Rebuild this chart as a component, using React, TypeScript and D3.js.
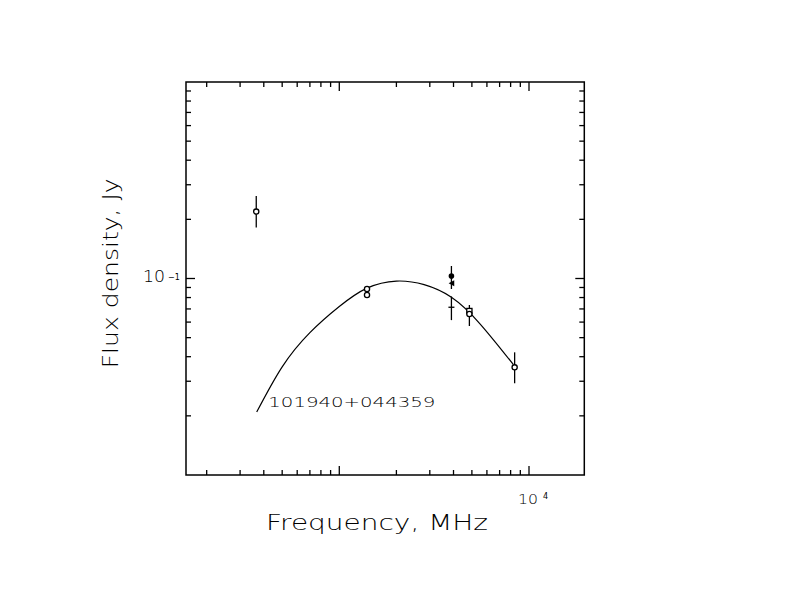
import React from 'react';
import * as d3 from 'd3';

// observations: frequency (MHz), flux (Jy), error bar (Jy), marker kind
const obsFreq = [365, 1400, 1400, 3900, 3900, 3900, 4850, 4850, 8400];
const obsFlux = [0.219, 0.0884, 0.0824, 0.103, 0.0946, 0.0714, 0.0683, 0.066, 0.0353];
const obsLow = [0.182, null, null, 0.0884, null, 0.0614, 0.0573, null, 0.0293];
const obsHigh = [0.263, null, null, 0.1158, null, 0.081, 0.0733, null, 0.0421];
const obsKind = ['circle', 'circle', 'circle', 'dot', 'tri', 'plus', 'square', 'circle', 'circle'];

// fitted spectrum
const fitFreq = [367, 500, 700, 1000, 1400, 2000, 2800, 3900, 5500, 8265];
const fitFlux = [0.0209, 0.0355, 0.053, 0.072, 0.0893, 0.097, 0.093, 0.0802, 0.059, 0.0365];

const xMinor = [200, 300, 400, 500, 600, 700, 800, 900, 2000, 3000, 4000, 5000, 6000, 7000, 8000, 9000];
const xMajor = [1000, 10000];
const yMinor = [0.02, 0.03, 0.04, 0.05, 0.06, 0.07, 0.08, 0.09, 0.2, 0.3, 0.4, 0.5, 0.6, 0.7, 0.8, 0.9];
const yMajor = [0.1];

const sourceName = '101940+044359';

const width = 792;
const height = 612;
const box = { left: 186, right: 584.3, top: 82, bottom: 475 };
const font = "'DejaVu Sans', 'Liberation Sans', sans-serif";

export default function App() {
  const x = d3.scaleLog().domain([155.6, 19565]).range([box.left, box.right]);
  const y = d3.scaleLog().domain([0.01, 1]).range([box.bottom, box.top]);

  const fitPts: [number, number][] = fitFreq.map((f, i) => [x(f), y(fitFlux[i])]);
  const fitLine = d3.line().curve(d3.curveNatural)(fitPts) || '';

  const minorLen = 5;
  const majorLen = 9;
  const tickProps = { stroke: '#000', strokeWidth: 1.3 };

  const marker = (kind: string, cx: number, cy: number, key: number) => {
    if (kind === 'dot') return <circle key={key} cx={cx} cy={cy} r={2.8} fill="#000" />;
    if (kind === 'tri')
      return <path key={key} d={`M${cx - 2.8},${cy} L${cx + 2.8},${cy - 3} L${cx + 2.8},${cy + 3} Z`} fill="#000" />;
    if (kind === 'plus')
      return <path key={key} d={`M${cx - 3},${cy} H${cx + 3}`} stroke="#000" strokeWidth={1.3} />;
    if (kind === 'square')
      return <rect key={key} x={cx - 2.6} y={cy - 2.6} width={5.2} height={5.2} fill="#fff" stroke="#000" strokeWidth={1.3} />;
    return <circle key={key} cx={cx} cy={cy} r={2.6} fill="#fff" stroke="#000" strokeWidth={1.3} />;
  };

  const txt = { fontFamily: font, fill: '#000', fontWeight: 200, lengthAdjust: 'spacingAndGlyphs' };

  return (
    <svg
      width={width}
      height={height}
      viewBox={`0 0 ${width} ${height}`}
      style={{ position: 'absolute', left: 0, top: 0, background: '#fff' }}
    >
      <rect width={width} height={height} fill="#fff" />
      <rect
        x={box.left}
        y={box.top}
        width={box.right - box.left}
        height={box.bottom - box.top}
        fill="none"
        stroke="#000"
        strokeWidth={1.5}
      />
      {[...xMinor.map((v) => [v, minorLen]), ...xMajor.map((v) => [v, majorLen])].map(([v, len], i) => (
        <g key={'xt' + i}>
          <line x1={x(v)} x2={x(v)} y1={box.bottom} y2={box.bottom - len} {...tickProps} />
          <line x1={x(v)} x2={x(v)} y1={box.top} y2={box.top + len} {...tickProps} />
        </g>
      ))}
      {[...yMinor.map((v) => [v, minorLen]), ...yMajor.map((v) => [v, majorLen])].map(([v, len], i) => (
        <g key={'yt' + i}>
          <line x1={box.left} x2={box.left + len} y1={y(v)} y2={y(v)} {...tickProps} />
          <line x1={box.right} x2={box.right - len} y1={y(v)} y2={y(v)} {...tickProps} />
        </g>
      ))}

      {/* tick labels */}
      <text x={x(10000) - 11} y={504} fontSize={14} textLength={20} {...txt}>10</text>
      <text x={x(10000) + 14} y={498.5} fontSize={8} fontFamily={font}>4</text>
      <text x={143} y={282} fontSize={15} textLength={22} {...txt}>10</text>
      <text x={168} y={279.5} fontSize={8} fontFamily={font}>−1</text>

      {/* axis titles */}
      <text x={266} y={530} fontSize={21} textLength={222} {...txt}>
        Frequency, MHz
      </text>
      <text transform="translate(118.3,368.3) rotate(-90)" fontSize={21} textLength={190} {...txt}>
        Flux density, Jy
      </text>

      <path d={fitLine} fill="none" stroke="#000" strokeWidth={1.2} />

      {obsFreq.map((f, i) => {
        const lo = obsLow[i];
        const hi = obsHigh[i];
        if (lo == null || hi == null) return null;
        return <line key={'e' + i} x1={x(f)} x2={x(f)} y1={y(lo)} y2={y(hi)} stroke="#000" strokeWidth={1.3} />;
      })}
      {obsFreq.map((f, i) => marker(obsKind[i], x(f), y(obsFlux[i]), i))}

      <text x={268.3} y={407.3} fontSize={14.5} textLength={167} {...txt}>
        {sourceName}
      </text>
    </svg>
  );
}
